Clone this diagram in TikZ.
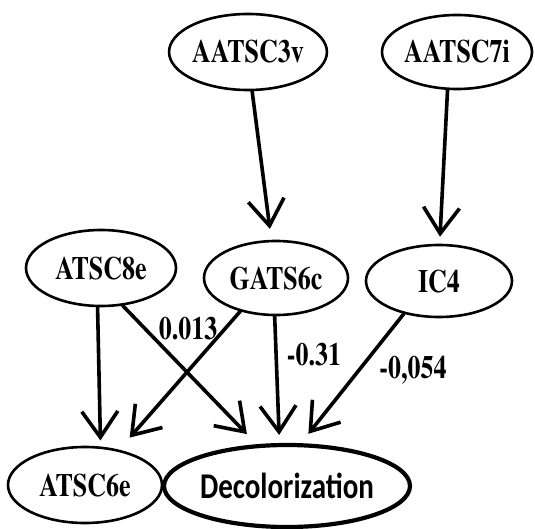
\documentclass[tikz,border=0pt]{standalone}
\usepackage{graphicx}
\usepackage{fontspec}
\newfontfamily\outcomefont{Carlito}[BoldFont={Carlito Bold}]
\usetikzlibrary{arrows.meta,shapes.geometric}
\newcommand\tallbox[1]{\scalebox{1}[1.25]{#1}}
% Times-style bold for the variable names and coefficients
\newcommand\varfont{\fontencoding{T1}\fontfamily{ptm}\fontseries{b}\selectfont}

\begin{document}
\begin{tikzpicture}[x=1pt,y=-1pt,
  var/.style={ellipse, draw, line width=2.6pt, inner sep=0pt,
    font=\fontsize{26}{30}\varfont},
  outcome/.style={var, line width=4.2pt,
    font=\fontsize{29}{33}\selectfont\outcomefont\bfseries},
  link/.style={line width=3.6pt, line cap=round,
    -{Straight Barb[length=26pt,width=36pt]}},
  wt/.style={inner sep=0pt, font=\fontsize{26}{30}\varfont}
]
\useasboundingbox (0,0) rectangle (535,529);

% variables
\node[var, minimum width=146pt, minimum height=76pt] (aatsc3v) at (248,52) {\tallbox{AATSC3v}};
\node[var, minimum width=150pt, minimum height=74pt] (aatsc7i) at (457,52) {\tallbox{AATSC7i}};
\node[var, minimum width=150pt, minimum height=76pt] (atsc8e)  at (101,268) {\tallbox{ATSC8e}};
\node[var, minimum width=144pt, minimum height=74pt] (gats6c)  at (276,278) {\tallbox{GATS6c}};
\node[var, minimum width=146pt, minimum height=72pt] (ic4)     at (439,281) {\tallbox{IC4}};
\node[var, minimum width=154pt, minimum height=76pt] (atsc6e)  at (85,485) {\tallbox{ATSC6e}};
\node[outcome, minimum width=202pt, minimum height=82pt] (decol) at (287,486) {\tallbox{Decolorization}};

% paths
\draw[link, shorten >=11pt] (aatsc3v.-84)   -- (gats6c.97);
\draw[link, shorten >=7pt]  (aatsc7i.-104)  -- (ic4.89);
\draw[link, shorten >=6pt]  (atsc8e.-95)    -- (atsc6e.68);
\draw[link, shorten >=14pt] (atsc8e.-60)    -- (decol.126);
\draw[link, shorten >=16pt] (gats6c.-137)   -- (atsc6e.46);
\draw[link, shorten >=8pt]  (gats6c.-92)    -- (decol.100);
\draw[link, shorten >=12pt] (ic4.-137)      -- (decol.72);

% path coefficients
\node[wt] (w1) at (188,328) {\tallbox{0.013}};
\node[wt] (w2) at (314,354) {\tallbox{-0.31}};
\node[wt] (w3) at (413,370) {\tallbox{-0,054}};
\end{tikzpicture}
\end{document}
